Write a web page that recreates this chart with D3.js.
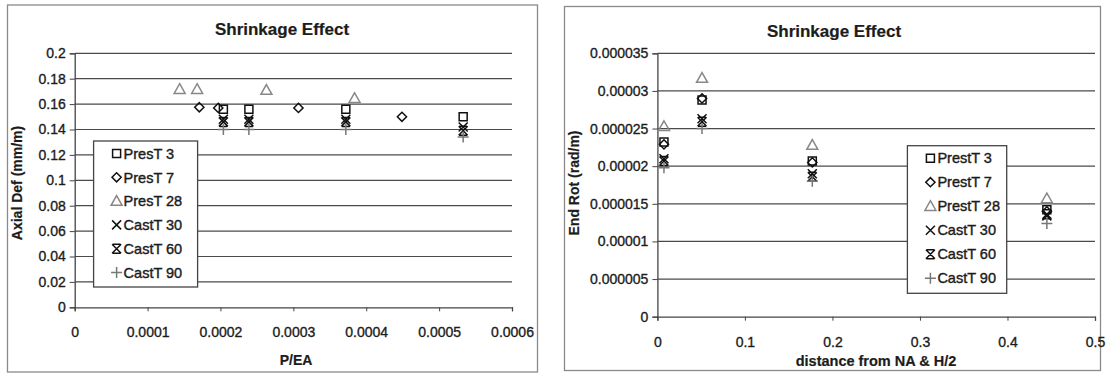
<!DOCTYPE html>
<html>
<head>
<meta charset="utf-8">
<script src="https://cdn.jsdelivr.net/npm/d3@7"></script>
<style>
  body { margin: 0; background: #fff; }
  svg { display: block; font-family: 'Liberation Sans', Arial, sans-serif; }
</style>
</head>
<body>
<svg id="chart" width="1106" height="374"></svg>
<script>
const seriesNames = ['PresT 3', 'PresT 7', 'PresT 28', 'CastT 30', 'CastT 60', 'CastT 90']
const seriesNamesRight = ['PrestT 3', 'PrestT 7', 'PrestT 28', 'CastT 30', 'CastT 60', 'CastT 90']

// left chart: axial deformation vs P/EA
const xPresT3 = [0.000204, 0.000239, 0.000372, 0.000533]
const xPresT7 = [0.000171, 0.000197, 0.000307, 0.000449]
const xPresT28 = [0.000144, 0.000168, 0.000263, 0.000384]
const yPresT3 = [0.156, 0.156, 0.156, 0.150]
const yPresT7 = [0.1575, 0.157, 0.157, 0.150]
const yPresT28 = [0.1717, 0.1717, 0.171, 0.1646]
const yCastT30 = [0.148, 0.148, 0.148, 0.142]
const yCastT60 = [0.146, 0.146, 0.146, 0.139]
const yCastT90 = [0.140, 0.140, 0.140, 0.134]
const leftYTicks = [0, 0.02, 0.04, 0.06, 0.08, 0.1, 0.12, 0.14, 0.16, 0.18, 0.2]
const leftXTicks = [0, 0.0001, 0.0002, 0.0003, 0.0004, 0.0005, 0.0006]

// right chart: end rotation vs distance from NA
const xDist = [0.0075, 0.051, 0.177, 0.445]
const rotPresT3 = [0.0000232, 0.0000288, 0.0000207, 0.0000142]
const rotPresT7 = [0.0000229, 0.0000290, 0.0000205, 0.0000140]
const rotPresT28 = [0.0000253, 0.0000317, 0.0000228, 0.0000157]
const rotCastT30 = [0.0000210, 0.0000263, 0.0000190, 0.0000134]
const rotCastT60 = [0.0000207, 0.0000259, 0.0000186, 0.0000136]
const rotCastT90 = [0.0000198, 0.0000250, 0.0000180, 0.0000124]
const rightYTicks = [0, 0.000005, 0.00001, 0.000015, 0.00002, 0.000025, 0.00003, 0.000035]
const rightXTicks = [0, 0.1, 0.2, 0.3, 0.4, 0.5]

const markers = ['square', 'diamond', 'triangle', 'x', 'star', 'plus']
const markerColor = ['#111', '#111', '#888', '#111', '#111', '#777']

function markerPath(type) {
  switch (type) {
    case 'square': return 'M-4,-4h8v8h-8z'
    case 'diamond': return 'M0,-4.6L4.6,0L0,4.6L-4.6,0Z'
    case 'triangle': return 'M0,-5.5L5.5,4.2H-5.5Z'
    case 'x': return 'M-4.5,-4.5L4.5,4.5M4.5,-4.5L-4.5,4.5'
    case 'star': return 'M-4.5,-4.5L4.5,4.5M4.5,-4.5L-4.5,4.5M-4,-4.5H4M-4,4.5H4'
    case 'plus': return 'M-5.5,0H5.5M0,-5.5V5.5'
  }
}

const fmt = (d) => (d === 0 ? '0' : String(+d.toFixed(6)))
const ink = '#1c1c1c'

const svg = d3.select('#chart')

// scanned text looks heavy, so give it a hairline outline
function heavy(sel, w) {
  sel.attr('fill', ink).attr('stroke', ink).attr('stroke-width', w).attr('paint-order', 'stroke')
}

function drawPanel(cfg) {
  const g = svg.append('g')

  g.append('rect')
    .attr('x', cfg.frame[0]).attr('y', cfg.frame[1])
    .attr('width', cfg.frame[2]).attr('height', cfg.frame[3])
    .attr('fill', '#fff').attr('stroke', '#8a8a8a').attr('stroke-width', 1.3)

  const x = d3.scaleLinear().domain(cfg.xDomain).range(cfg.xRange)
  const y = d3.scaleLinear().domain(cfg.yDomain).range(cfg.yRange)

  // gridlines
  g.append('g').selectAll('line').data(cfg.yTicks.slice(1)).enter().append('line')
    .attr('x1', cfg.xRange[0]).attr('x2', cfg.xRange[1])
    .attr('y1', (d) => y(d)).attr('y2', (d) => y(d))
    .attr('stroke', '#4a4a4a').attr('stroke-width', 1.2)

  const yAxis = g.append('g')
    .attr('transform', `translate(${cfg.xRange[0]},0)`)
    .call(d3.axisLeft(y).tickValues(cfg.yTicks).tickFormat(fmt).tickSize(5).tickPadding(4))
  const xAxis = g.append('g')
    .attr('transform', `translate(0,${cfg.yRange[0]})`)
    .call(d3.axisBottom(x).tickValues(cfg.xTicks).tickFormat(fmt).tickSize(4).tickPadding(cfg.xPad))

  ;[xAxis, yAxis].forEach((ax) => {
    ax.select('.domain').attr('stroke', '#444').attr('stroke-width', 1.3)
    ax.selectAll('.tick line').attr('stroke', '#444')
    ax.selectAll('text').attr('font-size', 14)
      .attr('font-family', "'Liberation Sans', Arial, sans-serif")
      .call(heavy, 0.35)
  })

  g.append('text')
    .attr('x', cfg.title[0]).attr('y', cfg.title[1])
    .attr('text-anchor', 'middle').attr('font-size', 17).attr('font-weight', 'bold')
    .call(heavy, 0.2).text('Shrinkage Effect')

  g.append('text')
    .attr('x', cfg.xTitle[0]).attr('y', cfg.xTitle[1])
    .attr('text-anchor', 'middle').attr('font-size', cfg.xTitleSize).attr('font-weight', 'bold')
    .call(heavy, 0.2).text(cfg.xLabel)

  g.append('text')
    .attr('transform', `translate(${cfg.yTitle[0]},${cfg.yTitle[1]}) rotate(-90)`)
    .attr('text-anchor', 'middle').attr('font-size', 14).attr('font-weight', 'bold')
    .call(heavy, 0.2).text(cfg.yLabel)

  // points
  cfg.series.forEach((s, i) => {
    g.append('g').selectAll('path').data(s.y).enter().append('path')
      .attr('transform', (d, j) => `translate(${x(s.x[j])},${y(d)})`)
      .attr('d', markerPath(markers[i]))
      .attr('fill', 'none')
      .attr('stroke', markerColor[i])
      .attr('stroke-width', 1.5)
  })

  // legend
  const lg = g.append('g')
  lg.append('rect')
    .attr('x', cfg.legend[0]).attr('y', cfg.legend[1])
    .attr('width', cfg.legend[2]).attr('height', cfg.legend[3])
    .attr('fill', '#fff').attr('stroke', '#444').attr('stroke-width', 1.3)
  const item = lg.selectAll('.item').data(cfg.names).enter().append('g')
    .attr('transform', (d, i) => `translate(${cfg.legend[0] + 23},${cfg.legend[1] + 12.5 + i * cfg.legendStep})`)
  item.append('path')
    .attr('d', (d, i) => markerPath(markers[i]))
    .attr('fill', 'none')
    .attr('stroke', (d, i) => markerColor[i])
    .attr('stroke-width', 1.5)
  item.append('text')
    .attr('x', 7).attr('dy', '0.36em')
    .attr('font-size', 14.5)
    .call(heavy, 0.4)
    .text((d) => d)
}

drawPanel({
  frame: [7.5, 5, 530, 367],
  xDomain: [0, 0.0006], xRange: [74.7, 512],
  yDomain: [0, 0.2], yRange: [307.3, 53.3],
  yTicks: leftYTicks, xTicks: leftXTicks, xPad: 16,
  title: [282, 35], xTitle: [296, 365], yTitle: [22, 183], xTitleSize: 14,
  xLabel: 'P/EA', yLabel: 'Axial Def (mm/m)',
  names: seriesNames,
  legend: [93.6, 141, 104, 146], legendStep: 23.8,
  series: [
    { x: xPresT3, y: yPresT3 },
    { x: xPresT7, y: yPresT7 },
    { x: xPresT28, y: yPresT28 },
    { x: xPresT3, y: yCastT30 },
    { x: xPresT3, y: yCastT60 },
    { x: xPresT3, y: yCastT90 }
  ]
})

drawPanel({
  frame: [564.5, 6.5, 536, 364],
  xDomain: [0, 0.5], xRange: [657.4, 1095],
  yDomain: [0, 0.000035], yRange: [316.7, 53.3],
  yTicks: rightYTicks, xTicks: rightXTicks, xPad: 16,
  title: [834, 37], xTitle: [876, 366], yTitle: [579, 183], xTitleSize: 14.5,
  xLabel: 'distance from NA & H/2', yLabel: 'End Rot (rad/m)',
  names: seriesNamesRight,
  legend: [907.4, 145.7, 99.3, 147.6], legendStep: 24,
  series: [
    { x: xDist, y: rotPresT3 },
    { x: xDist, y: rotPresT7 },
    { x: xDist, y: rotPresT28 },
    { x: xDist, y: rotCastT30 },
    { x: xDist, y: rotCastT60 },
    { x: xDist, y: rotCastT90 }
  ]
})
</script>
</body>
</html>
